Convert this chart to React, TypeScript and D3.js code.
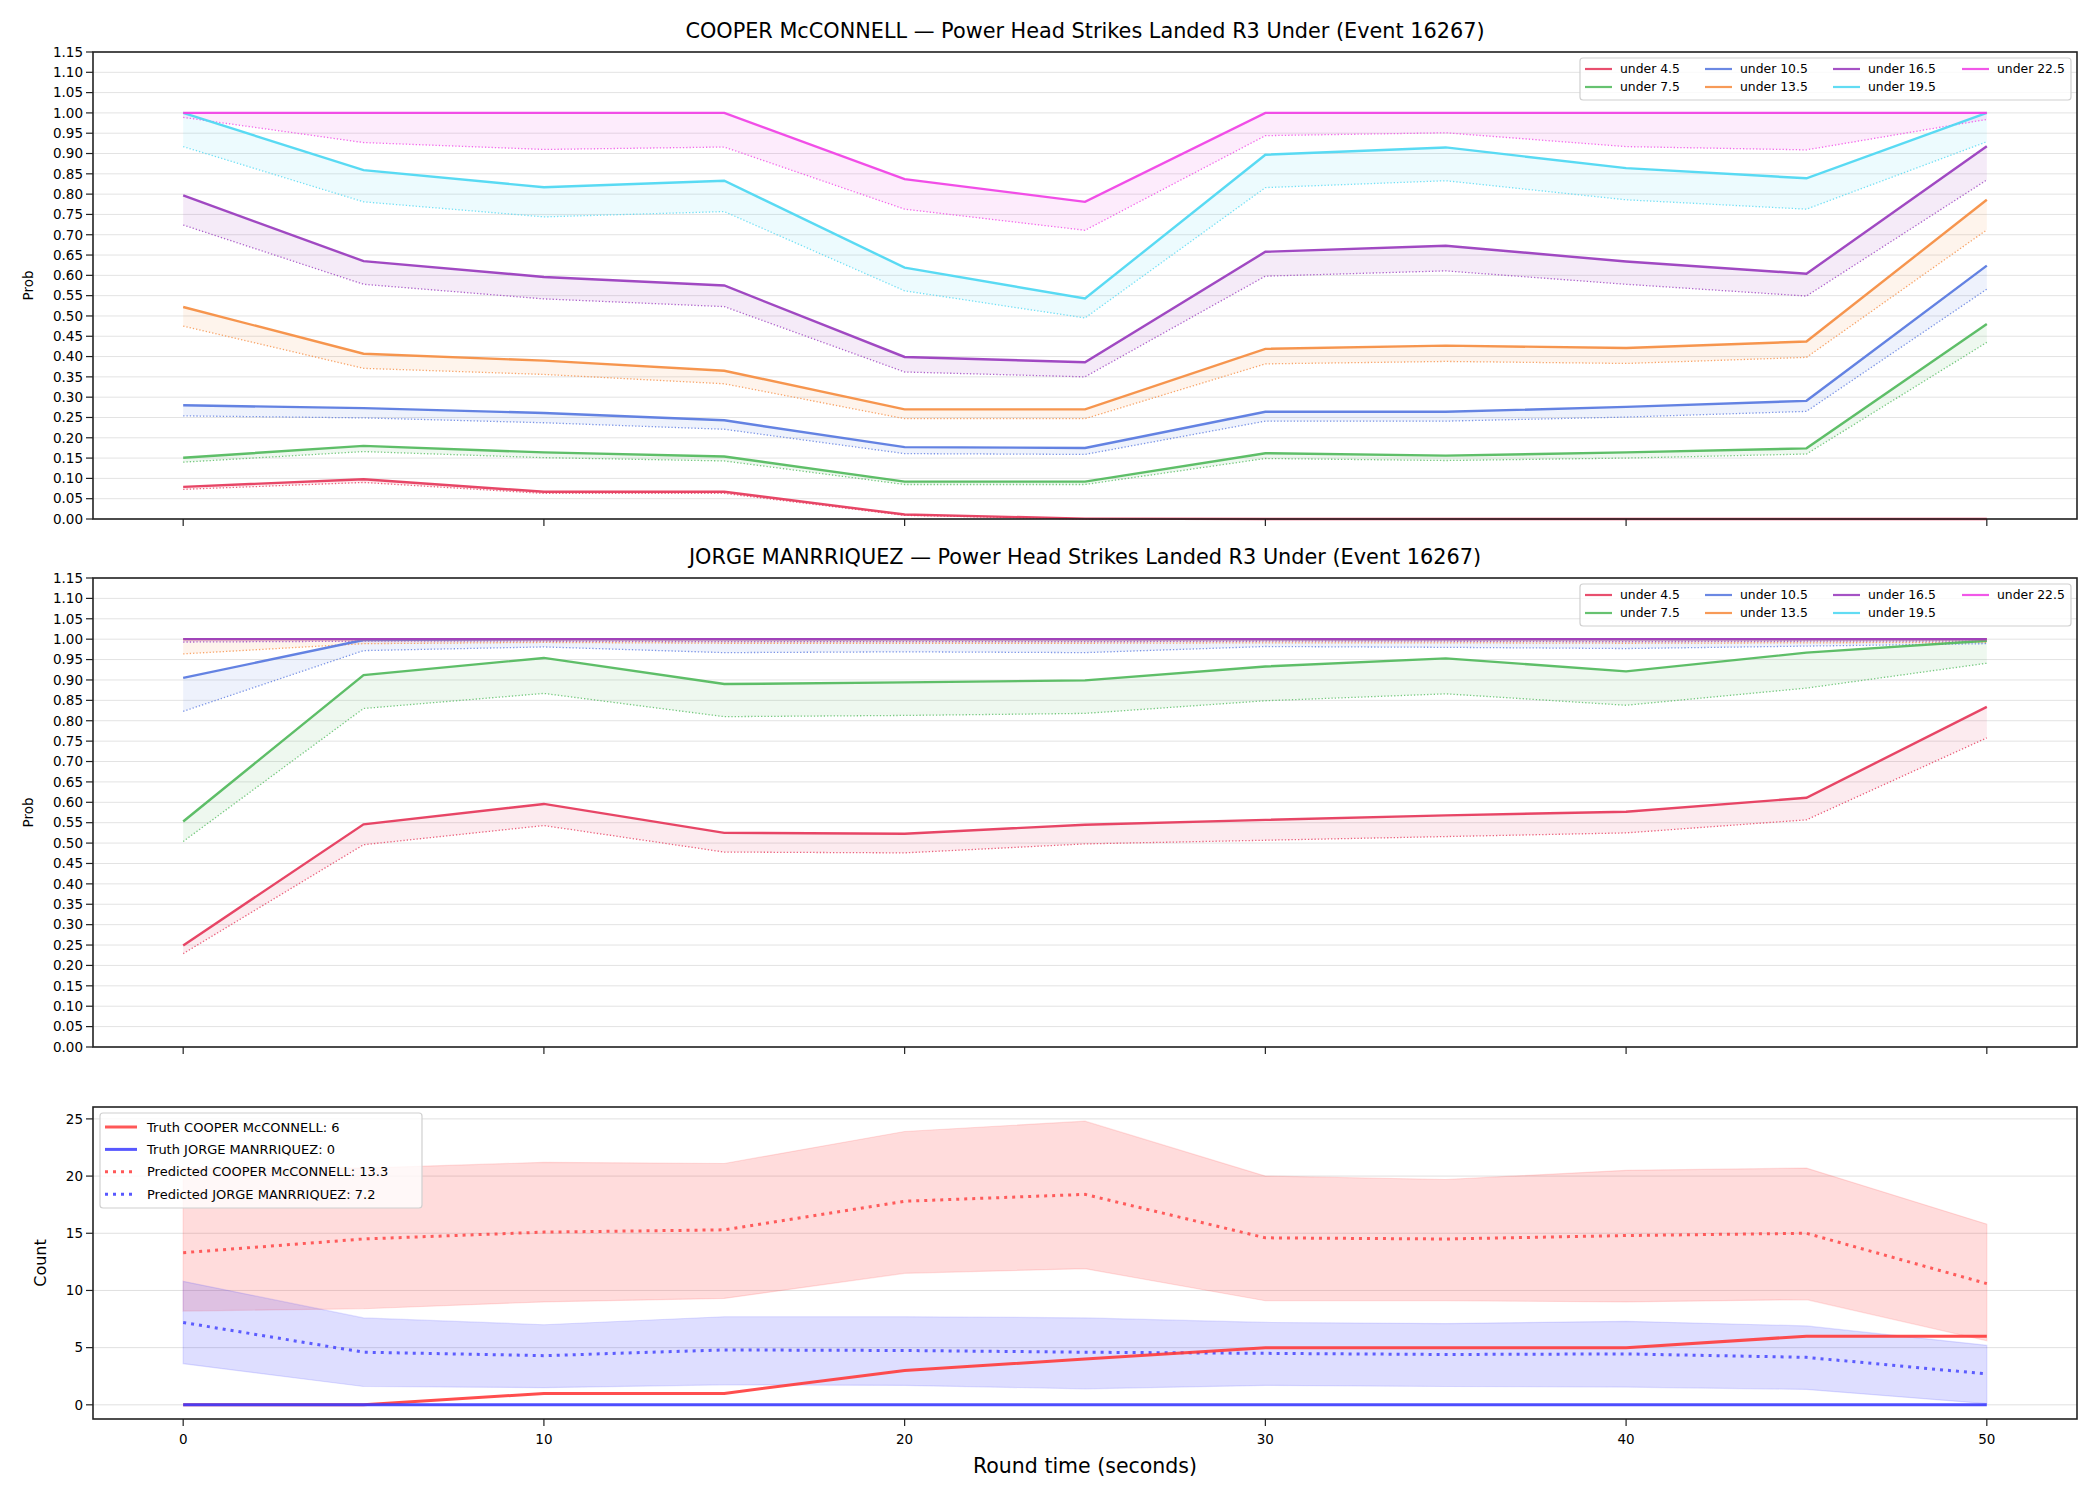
import React from 'react';
import * as d3 from 'd3';

// round time (seconds)
const times = [0, 5, 10, 15, 20, 25, 30, 35, 40, 45, 50];
const lineLabels = ['under 4.5', 'under 7.5', 'under 10.5', 'under 13.5', 'under 16.5', 'under 19.5', 'under 22.5'];
const lineColors = ['#e63c5e', '#55bb60', '#5b7be0', '#f68f45', '#9b3fbf', '#50d8f2', '#f045e6'];

// COOPER McCONNELL, market prob (solid) and predicted (dotted)
const cooperU45 = [0.079, 0.098, 0.067, 0.067, 0.011, 0.001, 0, 0, 0, 0, 0];
const cooperU45Pred = [0.073, 0.09, 0.063, 0.063, 0.009, 0, 0, 0, 0, 0, 0];
const cooperU75 = [0.151, 0.18, 0.164, 0.154, 0.092, 0.092, 0.162, 0.156, 0.164, 0.174, 0.48];
const cooperU75Pred = [0.14, 0.166, 0.151, 0.143, 0.085, 0.085, 0.149, 0.144, 0.15, 0.16, 0.435];
const cooperU105 = [0.28, 0.273, 0.261, 0.243, 0.177, 0.175, 0.264, 0.264, 0.276, 0.291, 0.624];
const cooperU105Pred = [0.254, 0.249, 0.237, 0.221, 0.161, 0.159, 0.241, 0.241, 0.251, 0.265, 0.566];
const cooperU135 = [0.522, 0.407, 0.39, 0.365, 0.27, 0.27, 0.419, 0.427, 0.421, 0.437, 0.786];
const cooperU135Pred = [0.475, 0.371, 0.356, 0.333, 0.247, 0.247, 0.382, 0.388, 0.383, 0.398, 0.712];
const cooperU165 = [0.797, 0.635, 0.596, 0.575, 0.399, 0.386, 0.658, 0.673, 0.634, 0.604, 0.918];
const cooperU165Pred = [0.724, 0.578, 0.542, 0.523, 0.362, 0.35, 0.598, 0.611, 0.578, 0.549, 0.835];
const cooperU195 = [1.0, 0.859, 0.817, 0.833, 0.619, 0.543, 0.897, 0.915, 0.864, 0.839, 1.0];
const cooperU195Pred = [0.917, 0.781, 0.744, 0.757, 0.562, 0.495, 0.816, 0.833, 0.786, 0.763, 0.929];
const cooperU225 = [1, 1, 1, 1, 0.837, 0.781, 1, 1, 1, 1, 1];
const cooperU225Pred = [0.989, 0.927, 0.91, 0.916, 0.763, 0.711, 0.944, 0.951, 0.917, 0.909, 0.984];

// JORGE MANRRIQUEZ (19.5 / 22.5 not drawn)
const jorgeU45 = [0.249, 0.546, 0.596, 0.525, 0.523, 0.545, 0.557, 0.568, 0.577, 0.611, 0.834];
const jorgeU45Pred = [0.229, 0.496, 0.543, 0.478, 0.476, 0.498, 0.507, 0.516, 0.525, 0.557, 0.758];
const jorgeU75 = [0.553, 0.912, 0.954, 0.89, 0.894, 0.899, 0.933, 0.953, 0.921, 0.967, 0.996];
const jorgeU75Pred = [0.504, 0.83, 0.867, 0.81, 0.813, 0.818, 0.849, 0.866, 0.838, 0.88, 0.941];
const jorgeU105 = [0.905, 0.998, 1, 1, 1, 1, 1, 1, 1, 1, 1];
const jorgeU105Pred = [0.823, 0.972, 0.981, 0.967, 0.969, 0.967, 0.982, 0.98, 0.977, 0.983, 0.989];
const jorgeU135 = [1, 1, 1, 1, 1, 1, 1, 1, 1, 1, 1];
const jorgeU135Pred = [0.964, 0.989, 0.992, 0.99, 0.99, 0.99, 0.991, 0.991, 0.99, 0.991, 0.992];
const jorgeU165 = [1, 1, 1, 1, 1, 1, 1, 1, 1, 1, 1];
const jorgeU165Pred = [0.993, 0.995, 0.995, 0.994, 0.994, 0.994, 0.995, 0.995, 0.994, 0.995, 0.995];

// counts
const truthCooper = [0, 0, 1, 1, 3, 4, 5, 5, 5, 6, 6];
const truthJorge = [0, 0, 0, 0, 0, 0, 0, 0, 0, 0, 0];
const predCooper = [13.3, 14.5, 15.1, 15.3, 17.8, 18.4, 14.6, 14.5, 14.8, 15.0, 10.6];
const predCooperLo = [8.2, 8.4, 9.0, 9.3, 11.5, 11.9, 9.1, 9.1, 9.0, 9.2, 5.6];
const predCooperHi = [20.7, 20.7, 21.2, 21.1, 23.9, 24.8, 20.0, 19.7, 20.5, 20.7, 15.8];
const predJorge = [7.2, 4.6, 4.3, 4.8, 4.75, 4.6, 4.5, 4.4, 4.45, 4.15, 2.7];
const predJorgeLo = [3.6, 1.6, 1.5, 1.75, 1.7, 1.4, 1.7, 1.6, 1.55, 1.35, 0.1];
const predJorgeHi = [10.8, 7.6, 7.0, 7.7, 7.7, 7.6, 7.2, 7.1, 7.3, 6.9, 5.2];

const countLabels = ['Truth COOPER McCONNELL: 6', 'Truth JORGE MANRRIQUEZ: 0', 'Predicted COOPER McCONNELL: 13.3', 'Predicted JORGE MANRRIQUEZ: 7.2'];
const probTicks = d3.range(0, 24).map(i => +(i * 0.05).toFixed(2));
const xTicks = [0, 10, 20, 30, 40, 50];
const countTicks = [0, 5, 10, 15, 20, 25];

const FONT = 'DejaVu Sans';
const LEFT = 93;
const RIGHT = 2077;

const x = d3.scaleLinear().domain([-2.5, 52.5]).range([LEFT, RIGHT]);

type Series = { label: string; color: string; solid: number[] | null; pred: number[] | null };

const ProbPanel = ({ top, bottom, title, series }: { top: number; bottom: number; title: string; series: Series[] }) => {
  const y = d3.scaleLinear().domain([0, 1.15]).range([bottom, top]);
  const line = d3.line<number>().x((_, i) => x(times[i])).y(d => y(d));
  const area = (a: number[], b: number[]) =>
    d3.area<number>().x((_, i) => x(times[i])).y0((_, i) => y(b[i])).y1(d => y(d))(a) || '';
  const fmt = d3.format('.2f');
  const cols = [5, 125, 253, 382];
  const lx = 1580, ly = top + 6;
  return (
    <g>
      <text x={(LEFT + RIGHT) / 2} y={top - 14} textAnchor="middle" fontSize={20.8} fontFamily={FONT}>{title}</text>
      {probTicks.map((t, i) => (
        <line key={'g' + i} x1={LEFT} x2={RIGHT} y1={y(t)} y2={y(t)} stroke="#e3e3e3" strokeWidth={1} />
      ))}
      {series.map((s, k) => s.solid && s.pred && (
        <path key={'a' + k} d={area(s.solid, s.pred)} fill={s.color} fillOpacity={0.1} />
      ))}
      {series.map((s, k) => s.pred && (
        <path key={'p' + k} d={line(s.pred) || ''} fill="none" stroke={s.color} strokeOpacity={0.8}
          strokeWidth={1.3} strokeDasharray="1.3,2" />
      ))}
      {series.map((s, k) => s.solid && (
        <path key={'s' + k} d={line(s.solid) || ''} fill="none" stroke={s.color} strokeOpacity={0.95} strokeWidth={2.4} />
      ))}
      <rect x={LEFT} y={top} width={RIGHT - LEFT} height={bottom - top} fill="none" stroke="#222" strokeWidth={1.6} />
      {probTicks.map((t, i) => (
        <g key={'yt' + i}>
          <line x1={LEFT - 7} x2={LEFT} y1={y(t)} y2={y(t)} stroke="#222" strokeWidth={1.2} />
          <text x={LEFT - 10} y={y(t) + 4.8} textAnchor="end" fontSize={13.5} fontFamily={FONT}>{fmt(t)}</text>
        </g>
      ))}
      {xTicks.map(t => (
        <line key={'xt' + t} x1={x(t)} x2={x(t)} y1={bottom} y2={bottom + 7} stroke="#222" strokeWidth={1.2} />
      ))}
      <text transform={`translate(33,${(top + bottom) / 2}) rotate(-90)`} textAnchor="middle" fontSize={13.5} fontFamily={FONT}>Prob</text>
      <rect x={lx} y={ly} width={491} height={42} rx={3} fill="white" fillOpacity={0.8} stroke="#d0d0d0" strokeWidth={1.2} />
      {series.map((s, k) => {
        const cx = lx + cols[Math.floor(k / 2)];
        const cy = ly + (k % 2 === 0 ? 11 : 29);
        return (
          <g key={'l' + k}>
            <line x1={cx} x2={cx + 27} y1={cy} y2={cy} stroke={s.color} strokeOpacity={0.9} strokeWidth={2.2} />
            <text x={cx + 35} y={cy + 4.3} fontSize={12.4} fontFamily={FONT}>{s.label}</text>
          </g>
        );
      })}
    </g>
  );
};

const CountPanel = ({ top, bottom }: { top: number; bottom: number }) => {
  const all = [...predCooperHi, ...predJorgeLo, ...truthCooper, ...truthJorge];
  const lo = d3.min(all) as number, hi = d3.max(all) as number;
  const pad = (hi - lo) * 0.05;
  const y = d3.scaleLinear().domain([lo - pad, hi + pad]).range([bottom, top]);
  const line = d3.line<number>().x((_, i) => x(times[i])).y(d => y(d));
  const band = (a: number[], b: number[]) =>
    d3.area<number>().x((_, i) => x(times[i])).y0((_, i) => y(b[i])).y1(d => y(d))(a) || '';
  const red = '#ff3b3b', blue = '#3b3bff';
  const legend = [
    { color: red, dash: undefined },
    { color: blue, dash: undefined },
    { color: red, dash: '3,5' },
    { color: blue, dash: '3,5' },
  ];
  return (
    <g>
      {countTicks.map(t => (
        <line key={'g' + t} x1={LEFT} x2={RIGHT} y1={y(t)} y2={y(t)} stroke="#e0e0e0" strokeWidth={1} />
      ))}
      <path d={band(predCooperHi, predCooperLo)} fill={red} fillOpacity={0.18} stroke={red} strokeOpacity={0.15} strokeWidth={1.2} />
      <path d={band(predJorgeHi, predJorgeLo)} fill={blue} fillOpacity={0.17} stroke={blue} strokeOpacity={0.15} strokeWidth={1.2} />
      <path d={line(predCooper) || ''} fill="none" stroke={red} strokeOpacity={0.8} strokeWidth={3} strokeDasharray="3,5" />
      <path d={line(predJorge) || ''} fill="none" stroke={blue} strokeOpacity={0.8} strokeWidth={3} strokeDasharray="3,5" />
      <path d={line(truthCooper) || ''} fill="none" stroke={red} strokeOpacity={0.9} strokeWidth={3} />
      <path d={line(truthJorge) || ''} fill="none" stroke={blue} strokeOpacity={0.9} strokeWidth={3} />
      <rect x={LEFT} y={top} width={RIGHT - LEFT} height={bottom - top} fill="none" stroke="#222" strokeWidth={1.6} />
      {countTicks.map(t => (
        <g key={'yt' + t}>
          <line x1={LEFT - 7} x2={LEFT} y1={y(t)} y2={y(t)} stroke="#222" strokeWidth={1.2} />
          <text x={LEFT - 10} y={y(t) + 4.8} textAnchor="end" fontSize={13.5} fontFamily={FONT}>{t}</text>
        </g>
      ))}
      {xTicks.map(t => (
        <g key={'xt' + t}>
          <line x1={x(t)} x2={x(t)} y1={bottom} y2={bottom + 7} stroke="#222" strokeWidth={1.2} />
          <text x={x(t)} y={bottom + 25} textAnchor="middle" fontSize={13.5} fontFamily={FONT}>{t}</text>
        </g>
      ))}
      <text transform={`translate(46,${(top + bottom) / 2}) rotate(-90)`} textAnchor="middle" fontSize={16} fontFamily={FONT}>Count</text>
      <text x={(LEFT + RIGHT) / 2} y={1473} textAnchor="middle" fontSize={20.5} fontFamily={FONT}>Round time (seconds)</text>
      <rect x={100} y={top + 6} width={322} height={95} rx={3} fill="white" fillOpacity={0.8} stroke="#d0d0d0" strokeWidth={1.2} />
      {countLabels.map((lab, k) => {
        const cy = top + 20 + k * 22.4;
        return (
          <g key={'l' + k}>
            <line x1={105} x2={137} y1={cy} y2={cy} stroke={legend[k].color} strokeOpacity={0.85} strokeWidth={3}
              strokeDasharray={legend[k].dash} />
            <text x={147} y={cy + 4.5} fontSize={13} fontFamily={FONT}>{lab}</text>
          </g>
        );
      })}
    </g>
  );
};

const cooperSeries: Series[] = [
  { label: lineLabels[0], color: lineColors[0], solid: cooperU45, pred: cooperU45Pred },
  { label: lineLabels[1], color: lineColors[1], solid: cooperU75, pred: cooperU75Pred },
  { label: lineLabels[2], color: lineColors[2], solid: cooperU105, pred: cooperU105Pred },
  { label: lineLabels[3], color: lineColors[3], solid: cooperU135, pred: cooperU135Pred },
  { label: lineLabels[4], color: lineColors[4], solid: cooperU165, pred: cooperU165Pred },
  { label: lineLabels[5], color: lineColors[5], solid: cooperU195, pred: cooperU195Pred },
  { label: lineLabels[6], color: lineColors[6], solid: cooperU225, pred: cooperU225Pred },
];

const jorgeSeries: Series[] = [
  { label: lineLabels[0], color: lineColors[0], solid: jorgeU45, pred: jorgeU45Pred },
  { label: lineLabels[1], color: lineColors[1], solid: jorgeU75, pred: jorgeU75Pred },
  { label: lineLabels[2], color: lineColors[2], solid: jorgeU105, pred: jorgeU105Pred },
  { label: lineLabels[3], color: lineColors[3], solid: jorgeU135, pred: jorgeU135Pred },
  { label: lineLabels[4], color: lineColors[4], solid: jorgeU165, pred: jorgeU165Pred },
  { label: lineLabels[5], color: lineColors[5], solid: null, pred: null },
  { label: lineLabels[6], color: lineColors[6], solid: null, pred: null },
];

export default function App() {
  return (
    <div style={{ position: 'absolute', left: 0, top: 0 }}>
      <svg width={2100} height={1500} style={{ display: 'block', background: 'white' }}>
        <ProbPanel top={52} bottom={519}
          title="COOPER McCONNELL — Power Head Strikes Landed R3 Under (Event 16267)" series={cooperSeries} />
        <ProbPanel top={578} bottom={1047}
          title="JORGE MANRRIQUEZ — Power Head Strikes Landed R3 Under (Event 16267)" series={jorgeSeries} />
        <CountPanel top={1107} bottom={1419} />
      </svg>
    </div>
  );
}
